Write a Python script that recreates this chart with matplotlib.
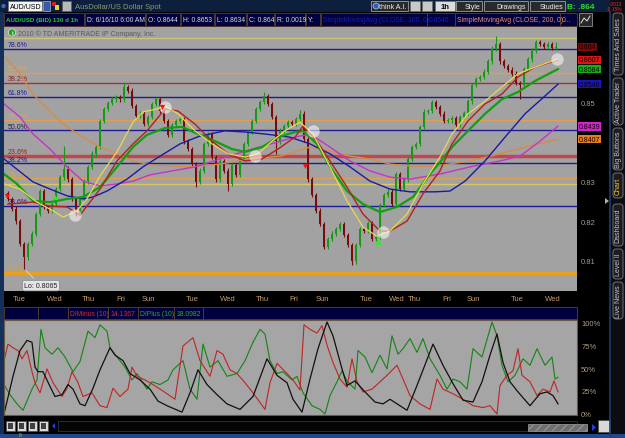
import numpy as np
import matplotlib.pyplot as plt
from matplotlib.patches import Rectangle, FancyBboxPatch, Circle, Polygon
from matplotlib.transforms import blended_transform_factory

plt.rcParams['font.family'] = ['Liberation Sans', 'DejaVu Sans']

W, H = 625, 439

# candle closes, one candle every 4 time steps
closes = [0.8256, 0.8231, 0.8200, 0.8142, 0.8109, 0.8142, 0.8168, 0.8218, 0.8276, 0.8236,
          0.8226, 0.8243, 0.8281, 0.8311, 0.8332, 0.8306, 0.8256, 0.8218, 0.8256, 0.8301,
          0.8337, 0.8370, 0.8387, 0.8453, 0.8483, 0.8498, 0.8508, 0.8513, 0.8508, 0.8539,
          0.8529, 0.8491, 0.8466, 0.8471, 0.8445, 0.8463, 0.8496, 0.8508, 0.8478, 0.8453,
          0.8418, 0.8443, 0.8453, 0.8458, 0.8402, 0.8382, 0.8344, 0.8299, 0.8327, 0.8395,
          0.8420, 0.8362, 0.8306, 0.8352, 0.8327, 0.8294, 0.8342, 0.8317, 0.8357, 0.8395,
          0.8425, 0.8453, 0.8483, 0.8501, 0.8516, 0.8496, 0.8463, 0.8402, 0.8428, 0.8440,
          0.8450, 0.8445, 0.8458, 0.8471, 0.8407, 0.8306, 0.8266, 0.8226, 0.8193, 0.8135,
          0.8155, 0.8168, 0.8180, 0.8193, 0.8165, 0.8140, 0.8099, 0.8140, 0.8180, 0.8175,
          0.8195, 0.8155, 0.8160, 0.8241, 0.8266, 0.8274, 0.8243, 0.8319, 0.8281, 0.8306,
          0.8357, 0.8387, 0.8395, 0.8438, 0.8476, 0.8478, 0.8501, 0.8488, 0.8471, 0.8453,
          0.8455, 0.8460, 0.8443, 0.8463, 0.8473, 0.8503, 0.8544, 0.8559, 0.8564, 0.8577,
          0.8604, 0.8635, 0.8647, 0.8604, 0.8592, 0.8582, 0.8572, 0.8549, 0.8544, 0.8584,
          0.8609, 0.8630, 0.8652, 0.8647, 0.8640, 0.8647, 0.8637, 0.8640]
first_open = 0.8270
# wick extremes that stand out on the chart {candle: price}
high_marks = {14: 0.8390, 29: 0.8548, 64: 0.8526, 73: 0.8480, 122: 0.8667, 137: 0.8653}
low_marks = {4: 0.8080, 22: 0.8362, 47: 0.8286, 55: 0.8276, 67: 0.8370, 86: 0.8090,
             128: 0.8508, 137: 0.8634}

# moving averages (time, price)
yellow_t = [-4, 12, 29, 45, 55, 69, 79, 92, 109, 125, 135, 149, 157, 170, 187, 204, 220, 237, 250, 264,
            277, 292, 305, 322, 339, 355, 369, 382, 399, 415, 432, 444, 460, 477, 494, 510, 527, 544, 550]
yellow_p = [0.8294, 0.8281, 0.8248, 0.8226, 0.8210, 0.8226, 0.8256, 0.8314, 0.8375, 0.8450,
            0.8476, 0.8483, 0.8491, 0.8471, 0.8428, 0.8395, 0.8370, 0.8362, 0.8370, 0.8402,
            0.8428, 0.8450, 0.8420, 0.8337, 0.8251, 0.8185, 0.8162, 0.8175, 0.8218, 0.8294,
            0.8362, 0.8420, 0.8471, 0.8503, 0.8539, 0.8572, 0.8589, 0.8604, 0.8609]
red_t = [0, 25, 42, 59, 72, 92, 109, 125, 139, 157, 170, 187, 204, 220, 237, 254, 270, 287, 295, 309,
         322, 339, 355, 372, 382, 399, 415, 432, 444, 460, 477, 494, 510, 527, 550]
red_p = [0.8243, 0.8248, 0.8238, 0.8236, 0.8215, 0.8281, 0.8352, 0.8395, 0.8428, 0.8483,
         0.8478, 0.8445, 0.8402, 0.8370, 0.8352, 0.8357, 0.8382, 0.8412, 0.8440, 0.8402,
         0.8352, 0.8286, 0.8218, 0.8175, 0.8175, 0.8200, 0.8269, 0.8327, 0.8395, 0.8453,
         0.8496, 0.8521, 0.8564, 0.8589, 0.8607]
green_t = [-4, 9, 25, 42, 59, 75, 92, 109, 125, 139, 157, 174, 190, 207, 224, 237, 254, 270, 287, 295,
           309, 322, 339, 355, 372, 389, 405, 422, 432, 444, 460, 477, 494, 510, 527, 550]
green_p = [0.8319, 0.8294, 0.8251, 0.8248, 0.8256, 0.8261, 0.8286, 0.8337, 0.8387, 0.8418,
           0.8435, 0.8438, 0.8420, 0.8402, 0.8382, 0.8375, 0.8387, 0.8412, 0.8425, 0.8428,
           0.8395, 0.8337, 0.8276, 0.8243, 0.8223, 0.8236, 0.8261, 0.8319, 0.8349, 0.8387,
           0.8428, 0.8471, 0.8508, 0.8526, 0.8554, 0.8584]
blue_t = [-4, 25, 42, 59, 75, 85, 99, 119, 135, 152, 172, 192, 217, 237, 257, 282, 302, 322, 342, 362,
          382, 402, 427, 442, 457, 477, 497, 517, 537, 550]
blue_p = [0.8357, 0.8299, 0.8281, 0.8264, 0.8256, 0.8261, 0.8276, 0.8306, 0.8337, 0.8364,
          0.8395, 0.8415, 0.8428, 0.8425, 0.8420, 0.8412, 0.8395, 0.8370, 0.8337, 0.8301,
          0.8281, 0.8274, 0.8274, 0.8276, 0.8301, 0.8352, 0.8412, 0.8471, 0.8516, 0.8546]
magenta_t = [-4, 12, 25, 42, 59, 75, 92, 109, 125, 142, 187, 237, 287, 302, 322, 342, 362, 382, 402,
             432, 462, 492, 512, 532, 550]
magenta_p = [0.8496, 0.8463, 0.8420, 0.8382, 0.8337, 0.8301, 0.8289, 0.8294, 0.8301, 0.8317,
             0.8337, 0.8377, 0.8412, 0.8420, 0.8387, 0.8352, 0.8327, 0.8311, 0.8306, 0.8319,
             0.8337, 0.8352, 0.8364, 0.8402, 0.8440]
orange_t = [-3, 12, 25, 42, 59, 75, 92, 109, 125, 142, 182, 212, 242, 272, 287, 302, 322, 342, 362,
            382, 402, 427, 462, 492, 522, 550]
orange_p = [0.8614, 0.8572, 0.8521, 0.8476, 0.8438, 0.8412, 0.8387, 0.8370, 0.8352, 0.8342,
            0.8337, 0.8344, 0.8357, 0.8364, 0.8375, 0.8387, 0.8377, 0.8364, 0.8357, 0.8344,
            0.8339, 0.8339, 0.8352, 0.8370, 0.8390, 0.8407]

# fibonacci lines
fib_levels = [0.8662, 0.8634, 0.8574, 0.8550, 0.8514, 0.8455, 0.8429, 0.8365, 0.8346, 0.8308,
              0.8294, 0.8239, 0.8069]
fib_labels = ['', '78.6%', '50.0%', '38.2%', '61.8%', '38.2%', '50.0%', '23.6%', '38.2%', '23.6%',
              '', '23.6%', '0.0%']
fib_colors = ['#cfc47a', '#1c1c96', '#e0a050', '#a83030', '#1c1c96', '#e0a050', '#1c1c96',
              '#c04848', '#1c1c96', '#e0a050', '#d8c860', '#1c1c96', '#e8a020']
fib_label_colors = ['', '#1c1c96', '#d8a858', '#9a1a1a', '#1c1c96', '#d8a858', '#202040',
                    '#9a1a1a', '#1c1c96', '#d8a858', '', '#1c1c96', '#e0a030']
fib_widths = [1, 1, 1, 1, 1, 1, 1, 2.5, 1, 1, 1, 1, 2.5]

# price bubbles on the right axis
tag_values = [0.864, 0.8607, 0.8584, 0.8546, 0.8439, 0.8407]
tag_labels = ['0.864', '0.8607', '0.8584', '0.8546', '0.8439', '0.8407']
tag_colors = ['#7c0808', '#e01414', '#14b014', '#1414c0', '#d024d0', '#e08020']

circle_t = [67, 157, 247, 305, 375, 549]
circle_p = [0.8216, 0.8488, 0.8365, 0.8428, 0.8173, 0.8609]
sell_t = [-1, 154, 297]
sell_p = [0.8263, 0.8488, 0.8339]
buy_t = [47, 370]
buy_p = [0.8261, 0.8147]

day_t = [11, 47, 80, 113, 140, 184, 220, 254, 286, 314, 358, 389, 406, 439, 465, 509, 545]
day_names = ['Tue', 'Wed', 'Thu', 'Fri', 'Sun', 'Tue', 'Wed', 'Thu', 'Fri', 'Sun',
             'Tue', 'Wed', 'Thu', 'Fri', 'Sun', 'Tue', 'Wed']

# DMI panel (time, percent)
dmi_red_t = [-4, 0, 5, 10, 14, 19, 24, 27, 32, 39, 45, 54, 59, 64, 70, 75, 84, 92, 99, 105,
             112, 120, 124, 129, 137, 145, 155, 167, 175, 185, 192, 202, 209, 215, 222, 229, 237, 245, 257, 262,
             269, 279, 285, 292, 296, 302, 309, 314, 319, 325, 332, 339, 344, 349, 355, 364, 372, 379, 389, 395,
             402, 412, 422, 429, 435, 445, 455, 465, 475, 482, 489, 492, 499, 505, 510, 514, 522, 529, 535, 542,
             546, 550]
dmi_red_v = [58, 76, 72, 69, 60, 69, 46, 34, 23, 49, 34, 19, 28, 46, 34, 19, 23, 9, 7, 28,
             19, 27, 51, 41, 37, 32, 25, 16, 74, 83, 58, 41, 69, 65, 48, 44, 34, 23, 5, 34,
             55, 44, 37, 26, 97, 92, 88, 96, 75, 56, 38, 29, 60, 35, 24, 27, 35, 42, 53, 38,
             20, 11, 5, 38, 27, 22, 16, 9, 7, 9, 0, 31, 42, 47, 71, 42, 35, 20, 27, 24,
             36, 24]
dmi_green_t = [-4, 2, 9, 15, 24, 29, 33, 37, 44, 50, 57, 65, 72, 80, 87, 92, 99, 102, 109, 117,
               124, 129, 139, 144, 152, 160, 165, 172, 175, 182, 189, 195, 202, 210, 219, 229, 237, 245, 252, 257,
               262, 269, 275, 284, 289, 295, 304, 312, 317, 322, 329, 334, 339, 347, 350, 357, 364, 372, 379, 384,
               390, 395, 402, 409, 415, 422, 432, 439, 445, 452, 459, 465, 474, 484, 489, 494, 500, 507, 515, 522,
               529, 537, 544, 547, 550]
dmi_green_v = [32, 21, 11, 4, 27, 37, 92, 72, 65, 72, 62, 46, 57, 90, 83, 97, 90, 72, 62, 51,
               37, 44, 27, 35, 32, 37, 48, 55, 58, 27, 16, 76, 51, 58, 41, 44, 58, 78, 92, 87,
               58, 44, 46, 37, 41, 23, 9, 5, 0, 20, 35, 47, 36, 27, 69, 62, 45, 64, 49, 85,
               65, 71, 82, 67, 82, 60, 42, 27, 38, 35, 27, 71, 62, 100, 85, 53, 35, 42, 60, 53,
               71, 53, 62, 38, 40]
adx_t = [-4, 5, 12, 19, 24, 27, 30, 35, 42, 47, 54, 60, 65, 72, 77, 85, 92, 102, 107, 115,
         122, 132, 142, 150, 159, 174, 182, 190, 199, 209, 219, 232, 245, 259, 269, 279, 285, 294, 302, 310,
         319, 325, 334, 339, 347, 357, 367, 375, 382, 392, 399, 409, 425, 435, 445, 455, 465, 474, 482, 489,
         495, 502, 510, 522, 532, 539, 545, 550]
adx_v = [0, 41, 69, 80, 78, 51, 46, 46, 30, 19, 21, 32, 27, 11, 9, 28, 48, 72, 64, 58,
         44, 37, 27, 14, 9, 2, 23, 48, 32, 21, 11, 5, 19, 60, 42, 34, 16, 2, 38, 71,
         100, 85, 49, 31, 36, 24, 13, 11, 16, 9, 4, 31, 76, 53, 33, 15, 13, 35, 64, 87,
         56, 35, 24, 9, 22, 24, 20, 11]

fig = plt.figure(figsize=(W / 100, H / 100), dpi=100, facecolor='#000000')


def px_axes(x0, y0, x1, y1, z):
    a = fig.add_axes([x0 / W, 1 - y1 / H, (x1 - x0) / W, (y1 - y0) / H], zorder=z)
    return a


def rect(a, x0, y0, x1, y1, fc, ec='none', lw=0.6, **kw):
    a.add_patch(Rectangle((x0, y0), x1 - x0, y1 - y0, fc=fc, ec=ec, lw=lw, **kw))


bg = px_axes(0, 0, W, H, 0)
bg.set_xlim(0, W)
bg.set_ylim(H, 0)
bg.axis('off')
fg = px_axes(0, 0, W, H, 5)
fg.set_xlim(0, W)
fg.set_ylim(H, 0)
fg.axis('off')

# ---- main price chart ----
ax = px_axes(4, 28, 577, 292, 2)
ax.set_facecolor('#a2a2a2')
ax.set_xlim(-4, 569)
ax.set_ylim(0.80236, 0.86902)
for s in ax.spines.values():
    s.set_visible(False)

for lev, lab, c, lc, lw in zip(fib_levels, fib_labels, fib_colors, fib_label_colors, fib_widths):
    ax.axhline(lev, color=c, lw=lw, zorder=1)
    if lab:
        ax.text(0, lev + 0.0002, lab, fontsize=5, color=lc, va='bottom', ha='left', zorder=1)

closes = np.array(closes)
opens = np.concatenate([[first_open], closes[:-1]])
t = np.arange(len(closes)) * 4
highs = np.maximum(opens, closes) + 0.0006
lows = np.minimum(opens, closes) - 0.0006
for i, v in high_marks.items():
    highs[i] = v
for i, v in low_marks.items():
    lows[i] = v
col = np.where(closes >= opens, '#169a16', '#760c0c')
ax.vlines(t, lows, highs, colors=col, lw=0.8, zorder=3)
ax.bar(t, np.maximum(np.abs(closes - opens), 0.0003), bottom=np.minimum(opens, closes),
       width=2.8, color=col, zorder=3)

ax.plot(orange_t, orange_p, color='#d88a46', lw=1, zorder=4)
ax.plot(magenta_t, magenta_p, color='#c832c8', lw=1, zorder=4)
ax.plot(blue_t, blue_p, color='#1a1aa6', lw=1, zorder=4)
ax.plot(green_t, green_p, color='#10a010', lw=1.6, zorder=4)
ax.plot(red_t, red_p, color='#b42020', lw=1, zorder=4)
ax.plot(yellow_t, yellow_p, color='#e8d850', lw=0.9, zorder=4)

ax.scatter(circle_t, circle_p, s=80, color='white', alpha=0.55, lw=0, zorder=5)
ax.scatter(sell_t, sell_p, s=14, marker='v', color='#ff1010', lw=0, zorder=6)
ax.scatter(buy_t, buy_p, s=14, marker='^', color='#10ff10', lw=0, zorder=6)

ax.annotate('Lo: 0.8065', xy=(16, 0.8080), xytext=(17, -17), textcoords='offset pixels',
            fontsize=5, color='#202020', ha='center', va='center', zorder=6,
            bbox=dict(boxstyle='round,pad=0.25', fc='#e4e4e4', ec='#888888', lw=0.5),
            arrowprops=dict(arrowstyle='-', color='#d8d8d8', lw=0.6))

ax.yaxis.tick_right()
ax.set_yticks([0.81, 0.82, 0.83, 0.85], ['0.81', '0.82', '0.83', '0.85'])
ax.tick_params(axis='y', length=0, pad=3, labelsize=5.5, labelcolor='#a09a90')
ax.set_xticks(day_t, day_names)
ax.tick_params(axis='x', length=0, pad=3, labelsize=5.5, labelcolor='#c49c6a')

tr = blended_transform_factory(ax.transAxes, ax.transData)
for v, lab, c in zip(tag_values, tag_labels, tag_colors):
    ax.text(1.003, v, lab, transform=tr, ha='left', va='center', fontsize=5, color='#140000',
            clip_on=False, zorder=7, bbox=dict(boxstyle='square,pad=0.12', fc=c, ec='none'))

# ---- DMI panel ----
dx = px_axes(4, 321, 577, 416, 2)
dx.set_facecolor('#a5a5a5')
dx.set_xlim(-4, 569)
dx.set_ylim(-1.1, 102.2)
for s in dx.spines.values():
    s.set_color('#6a5844')
    s.set_linewidth(0.8)
dx.plot(dmi_green_t, dmi_green_v, color='#138413', lw=0.8)
dx.plot(dmi_red_t, dmi_red_v, color='#c02424', lw=0.8)
dx.plot(adx_t, adx_v, color='#101010', lw=0.9)
dx.yaxis.tick_right()
dx.set_yticks([0, 25, 50, 75, 100], ['0%', '25%', '50%', '75%', '100%'])
dx.tick_params(axis='y', length=0, pad=3, labelsize=5.5, labelcolor='#b09a80')
dx.set_xticks([])

# ---- window chrome ----
rect(bg, 0, 0, W, 13, '#0c1f3c')
rect(bg, 0, 13, 4, 436, '#14305a')
bg.add_patch(Circle((3.5, 7), 2.2, fc='#3a6ab0', ec='none'))
rect(bg, 8, 2, 42, 12, '#f2f2f2', '#707070')
bg.text(10, 7.3, 'AUD/USD', fontsize=5, color='#000000', va='center')
rect(bg, 43, 2, 50, 12, '#3a5aa8', '#90a0c0')
rect(bg, 52, 3, 56, 7, '#e01818')
rect(bg, 55, 6, 59, 11, '#f0d020')
rect(bg, 62, 2, 71, 12, '#b8b8b8', '#606060')
bg.text(75, 7.3, 'AusDollar/US Dollar Spot', fontsize=5.5, color='#8c9a74', va='center')

buttons = [(371, 408, 'think A.I.'), (456, 482, 'Style'), (484, 528, 'Drawings'), (530, 565, 'Studies')]
for x0, x1, lab in buttons:
    rect(bg, x0, 2, x1, 12, '#2a2a2a', '#a0a0a0')
    bg.text(x1 - 2, 7.3, lab, fontsize=5, color='#f0f0f0', va='center', ha='right')
bg.add_patch(Circle((376, 7), 3, fc='#2860c0', ec='#c0d0f0', lw=0.5))
rect(bg, 410, 2, 420, 12, '#c8c8c8', '#707070')
rect(bg, 422, 2, 432, 12, '#c8c8c8', '#707070')
rect(bg, 435, 2, 455, 12, '#dcdcdc', '#707070')
bg.text(445, 7.3, '1h', fontsize=5.5, color='#000000', va='center', ha='center', weight='bold')
bg.text(567, 7.3, 'B: .864', fontsize=6, color='#2ee02e', va='center', weight='bold')

# right tab strip
rect(bg, 610, 0, W, 439, '#0c0c12')
bg.plot([610, 610], [13, 436], color='#1c3c6c', lw=1.2)
tabs = [('Times And Sales', 14, 76), ('Active Trader', 79, 126), ('Big Buttons', 129, 171),
        ('Chart', 174, 199), ('Dashboard', 205, 247), ('Level II', 250, 280), ('Live News', 283, 320)]
for lab, y0, y1 in tabs:
    bg.add_patch(FancyBboxPatch((613, y0), 10, y1 - y0, boxstyle='round,pad=0,rounding_size=3',
                                fc='#1c1c22', ec='#808080', lw=0.6))
    bg.text(618, (y0 + y1) / 2, lab, rotation=90, fontsize=5, ha='center', va='center',
            color='#f0c838' if lab == 'Chart' else '#c8c8c8')
bg.add_patch(Polygon([[605, 199], [609, 202], [605, 205]], fc='#b0b0b0', ec='none'))
bg.text(622, 4, '.0013', fontsize=3.5, color='#e03030', va='center', ha='right')
bg.text(622, 9.5, '-0.15%', fontsize=3.5, color='#e03030', va='center', ha='right')

hdr = [(4, 84, 'AUD/USD (BID) 130 d 1h', '#2ec82e'), (85, 145, 'D: 6/16/10 6:00 AM', '#d8d8d8'),
       (146, 180, 'O: 0.8644', '#d8d8d8'), (181, 214, 'H: 0.8653', '#d8d8d8'),
       (215, 246, 'L: 0.8634', '#d8d8d8'), (247, 274, 'C: 0.864', '#d8d8d8'),
       (275, 305, 'R: 0.0019', '#d8d8d8'), (306, 320, 'Y:', '#d8d8d8'),
       (321, 427, 'SimpleMovingAvg (CLOSE, 100, 0)', '#1c1cb8'), (427, 455, '0.8546', '#1c1cb8'),
       (455, 560, 'SimpleMovingAvg (CLOSE, 200, 0)', '#e8946a'), (560, 577, '0...', '#e8946a')]
for x0, x1, lab, c in hdr:
    rect(bg, x0, 14, x1, 27, '#00003e', '#5a4030')
    bold = lab.startswith('AUD')
    bg.text(x0 + 2, 20.8, lab, fontsize=4.5 if bold else 4.9, color=c, va='center',
            weight='bold' if bold else 'normal')
rect(bg, 579, 14, 592, 27, '#282828', '#909090')
bg.plot([581, 584, 587, 590], [24, 19, 22, 17], color='#e0e0e0', lw=0.7)

fg.add_patch(Circle((12, 33.5), 3.6, fc='#20a020', ec='#e0e0e0', lw=0.5))
fg.text(12, 33.8, 'i', fontsize=4.5, color='white', ha='center', va='center', weight='bold')
fg.text(18, 33.8, '2010 \u00a9 TD AMERITRADE IP Company, Inc.', fontsize=5, color='#5a5a5a', va='center')

dmi_hdr = [(4, 38, '', ''), (38, 68, '', ''), (68, 108, 'DIMinus (10)', '#d03030'),
           (108, 138, '14.1367', '#d03030'), (138, 174, 'DIPlus (10)', '#30a830'),
           (174, 203, '18.0982', '#30a830'), (203, 577, '', '')]
for x0, x1, lab, c in dmi_hdr:
    rect(bg, x0, 308, x1, 320, '#00003e', '#5a4030')
    if lab:
        bg.text(x0 + 2, 314.3, lab, fontsize=4.9, color=c, va='center')

# bottom bar
for x0 in [6, 17, 28, 39]:
    rect(bg, x0, 422, x0 + 9, 432, '#d8d8d8', '#505050')
    rect(bg, x0 + 2, 424, x0 + 7, 430, '#404040')
bg.text(20, 436, '8', fontsize=3.5, color='#e0c040', ha='center', va='center')
bg.add_patch(Polygon([[55, 424], [52, 427], [55, 430]], fc='#2040e0', ec='none'))
rect(bg, 58, 422, 577, 432, '#050505', '#343434')
rect(bg, 528, 425, 587, 432, '#6e6e6e', '#909090', hatch='////')
bg.add_patch(Polygon([[592, 425], [596, 428.5], [592, 432]], fc='#2040e0', ec='none'))
rect(bg, 598, 421, 610, 433, '#d8d8d8', '#505050')
rect(bg, 0, 435, W, 439, '#1a4c8c')

fig.savefig('out.png', dpi=100, facecolor=fig.get_facecolor())
